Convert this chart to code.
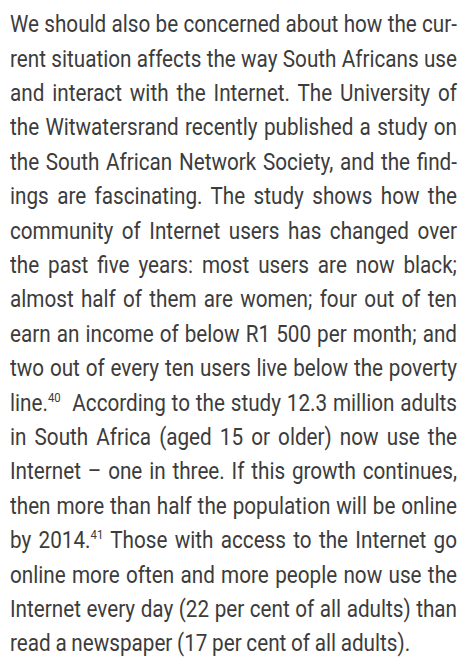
<!DOCTYPE html>
<html>
<head>
<meta charset="utf-8">
<script src="https://cdn.jsdelivr.net/npm/chart.js@4"></script>
<style>
  html, body { margin: 0; padding: 0; background: #fff; }
  body { width: 462px; height: 659px; overflow: hidden; position: relative; }
  #text {
    position: absolute;
    left: 10px;
    top: 7.3px;
    font-family: Roboto, "Liberation Sans", sans-serif;
    font-size: 23.5px;
    word-spacing: -0.5px;
    color: #3c3c3c;
    transform-origin: 0 0;
  }
  .ln {
    height: 34.4px;
    line-height: 34.4px;
    white-space: nowrap;
    text-align: justify;
    text-align-last: justify;
  }
  .ln.last { text-align-last: left; }
  sup { font-size: 0.55em; line-height: 0; vertical-align: 0.7em; }
</style>
</head>
<body>
<div id="text"></div>
<script>
// paragraph, one entry per printed line (footnote marks in [n])
const lines = [
  "We should also be concerned about how the cur-",
  "rent situation affects the way South Africans use",
  "and interact with the Internet. The University of",
  "the Witwatersrand recently published a study on",
  "the South African Network Society, and the find-",
  "ings are fascinating. The study shows how the",
  "community of Internet users has changed over",
  "the past five years: most users are now black;",
  "almost half of them are women; four out of ten",
  "earn an income of below R1 500 per month; and",
  "two out of every ten users live below the poverty",
  "line.[40]\u00a0 According to the study 12.3 million adults",
  "in South Africa (aged 15 or older) now use the",
  "Internet \u2013 one in three. If this growth continues,",
  "then more than half the population will be online",
  "by 2014.[41] Those with access to the Internet go",
  "online more often and more people now use the",
  "Internet every day (22 per cent of all adults) than",
  "read a newspaper (17 per cent of all adults)."
];

const colWidth = 447; // printed column width in px

const box = document.getElementById("text");
lines.forEach((t, i) => {
  const d = document.createElement("div");
  d.className = "ln" + (i === lines.length - 1 ? " last" : "");
  t.split(/(\[\d+\])/).forEach(part => {
    const m = part.match(/^\[(\d+)\]$/);
    if (m) {
      const s = document.createElement("sup");
      s.textContent = m[1];
      d.appendChild(s);
    } else if (part) {
      d.appendChild(document.createTextNode(part));
    }
  });
  box.appendChild(d);
});

// squeeze the font horizontally, like a condensed cut
let widest = 0;
box.querySelectorAll(".ln").forEach(d => {
  const r = document.createRange();
  r.selectNodeContents(d);
  widest = Math.max(widest, r.getBoundingClientRect().width);
});
const sx = Math.min(0.88, colWidth / (widest * 1.003));
box.style.width = (colWidth / sx) + "px";
box.style.transform = "scaleX(" + sx + ")";
</script>
</body>
</html>
